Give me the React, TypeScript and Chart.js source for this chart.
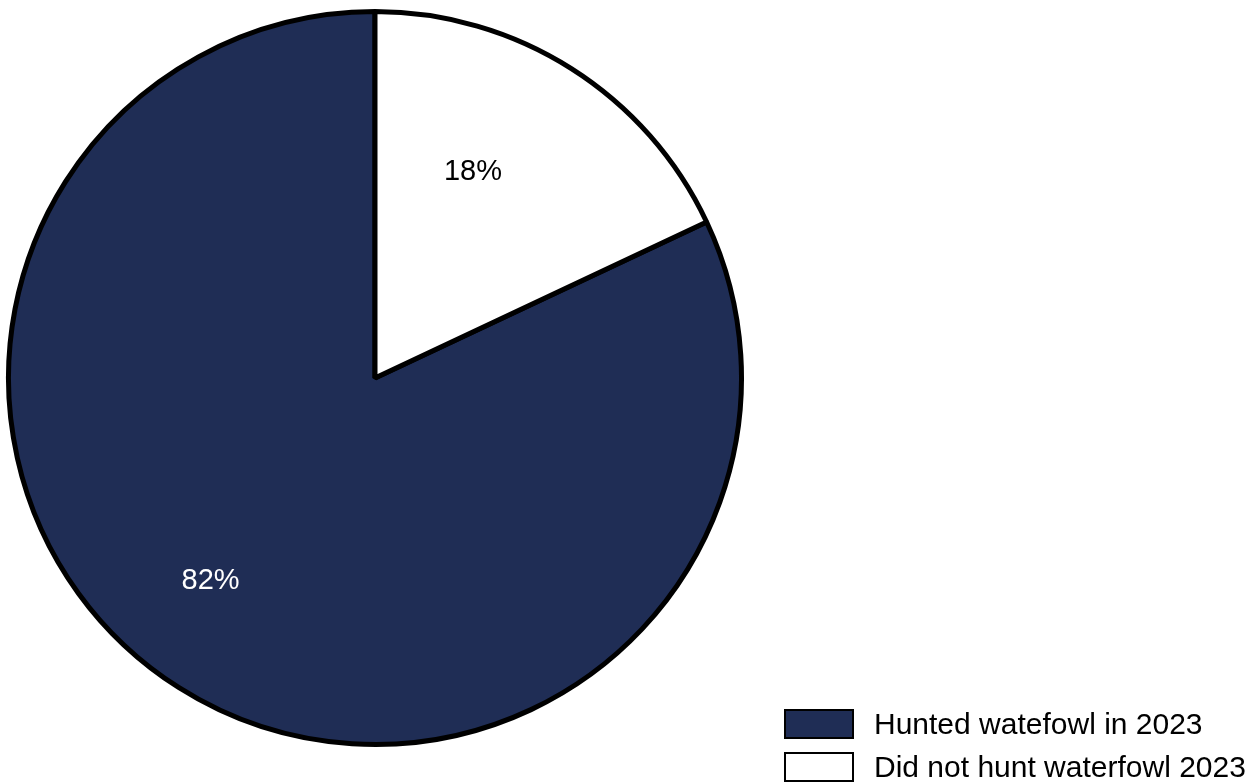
import React, { useEffect, useRef } from "react";
import { Chart, registerables } from "chart.js";

Chart.register(...registerables);

const categories = ["Hunted watefowl in 2023", "Did not hunt waterfowl 2023"];
const values = [82, 18];
const valueLabels = ["82%", "18%"];
const colors = ["#1F2D55", "#FFFFFF"];
const labelColors = ["#FFFFFF", "#000000"];

// label placement along each slice (fraction of sweep, fraction of radius)
const labelSweepFrac = [0.523, 0.39];
const labelRadiusFrac = [0.71, 0.626];

const FONT = "'Liberation Sans', Arial, sans-serif";

const labelPlugin = {
  id: "sliceLabels",
  afterDatasetsDraw(chart: any) {
    const ctx = chart.ctx;
    const meta = chart.getDatasetMeta(0);
    ctx.save();
    ctx.font = `29px ${FONT}`;
    ctx.textAlign = "center";
    ctx.textBaseline = "middle";
    meta.data.forEach((arc: any, i: number) => {
      const { x, y, startAngle, endAngle, outerRadius } = arc.getProps(
        ["x", "y", "startAngle", "endAngle", "outerRadius"],
        true
      );
      const a = startAngle + (endAngle - startAngle) * labelSweepFrac[i];
      const r = outerRadius * labelRadiusFrac[i];
      ctx.fillStyle = labelColors[i];
      ctx.fillText(valueLabels[i], x + Math.cos(a) * r, y + Math.sin(a) * r + 1);
    });
    ctx.restore();
  },
};

export default function App() {
  const ref = useRef<HTMLCanvasElement | null>(null);
  useEffect(() => {
    if (!ref.current) return;
    const chart = new Chart(ref.current, {
      type: "pie",
      data: {
        labels: categories,
        datasets: [
          {
            data: values,
            backgroundColor: colors,
            borderColor: "#000000",
            borderWidth: 5,
          },
        ],
      },
      options: {
        animation: false,
        responsive: false,
        rotation: (values[1] / 100) * 360,
        layout: { padding: { left: 5, top: 9, right: 513, bottom: 35 } },
        plugins: {
          legend: { display: false },
          tooltip: { enabled: false },
        },
      },
      plugins: [labelPlugin],
    });
    return () => chart.destroy();
  }, []);

  return (
    <div style={{ position: "absolute", left: 0, top: 0, width: 1258, height: 782, background: "#fff", overflow: "hidden" }}>
      <canvas ref={ref} width={1258} height={782} style={{ position: "absolute", left: 0, top: 0 }} />
      <div style={{ position: "absolute", left: 784, top: 709, fontFamily: FONT, fontSize: 30, color: "#000" }}>
        {categories.map((c, i) => (
          <div key={c} style={{ display: "flex", alignItems: "center", height: 30, marginBottom: 13 }}>
            <div
              style={{
                width: 66,
                height: 26,
                background: colors[i],
                border: "2px solid #000",
                marginRight: 20,
              }}
            />
            <span style={{ lineHeight: "30px", whiteSpace: "nowrap" }}>{c}</span>
          </div>
        ))}
      </div>
    </div>
  );
}
